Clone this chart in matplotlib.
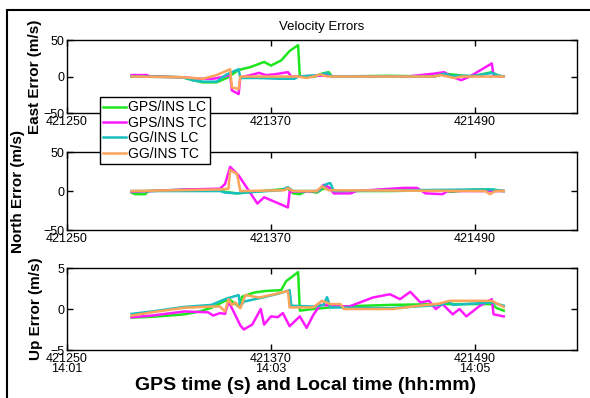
import matplotlib
matplotlib.use('Agg')
import matplotlib.pyplot as plt
from matplotlib.patches import Rectangle

plt.rcParams['font.family'] = ['Liberation Sans', 'DejaVu Sans']

# Series names and colours
series_names = ['GPS/INS LC', 'GPS/INS TC', 'GG/INS LC', 'GG/INS TC']
series_colors = ['#1ee61e', '#ff19ff', '#19bebe', '#fba45a']

# East velocity error (m/s)
east_lc_t = [421288, 421305, 421318, 421324, 421330, 421338, 421344, 421351, 421358, 421366, 421370, 421376, 421381,
             421386, 421387, 421396, 421400, 421404, 421406, 421440, 421466, 421472, 421476, 421488, 421500, 421504, 421507]
east_lc_v = [0, 0, -1, -5, -8, -8, -2, 9, 13, 20, 15, 22, 35, 43, 0, 0, 4, 6, 0, 1, 0, 4, 3, 0, 6, 1, 0]
east_tc_t = [421288, 421297, 421299, 421318, 421328, 421336, 421343, 421346, 421347, 421351, 421352, 421358, 421363,
             421367, 421372, 421380, 421382, 421398, 421403, 421407, 421450, 421466, 421472, 421476, 421482, 421487,
             421500, 421501, 421507]
east_tc_v = [2, 2, 0, -1, -3, -3, 0, 3, -19, -24, -1, 2, 5, 2, 3, 6, 0, 1, 2, 0, 0, 4, 6, 0, -5, 0, 18, 1, 0]
east_gglc_t = [421288, 421318, 421324, 421330, 421338, 421344, 421351, 421352, 421362, 421375, 421384, 421386, 421398,
               421403, 421406, 421466, 421472, 421476, 421490, 421500, 421503, 421507]
east_gglc_v = [0, -1, -5, -7, -7, 3, 10, -2, -2, -3, -3, 0, 2, 5, 0, 0, 4, 1, 1, 5, 2, 0]
east_ggtc_t = [421288, 421318, 421330, 421338, 421346, 421347, 421351, 421352, 421386, 421391, 421395, 421399, 421403,
               421466, 421470, 421478, 421482, 421507]
east_ggtc_v = [0, -1, -3, 2, 10, -15, -17, 0, 0, -2, 0, 3, 0, 0, 2, -2, 0, 0]

# North velocity error (m/s)
north_lc_t = [421288, 421290, 421296, 421298, 421320, 421340, 421343, 421350, 421360, 421375, 421380, 421383, 421387,
              421391, 421397, 421400, 421404, 421407, 421440, 421470, 421476, 421490, 421500, 421507]
north_lc_v = [-2, -4, -4, 0, 2, 2, -1, -3, -1, 2, 3, -3, -4, 0, -2, 2, 5, 0, 0, 1, -1, 2, 2, 0]
north_tc_t = [421288, 421300, 421320, 421340, 421343, 421346, 421351, 421362, 421366, 421380, 421381, 421398, 421401,
              421404, 421407, 421417, 421420, 421448, 421456, 421461, 421471, 421474, 421507]
north_tc_v = [-1, 0, 2, 3, 9, 31, 20, -16, -8, -21, -1, 0, 8, 5, -3, -3, 0, 4, 4, -3, -4, 0, 0]
north_gglc_t = [421288, 421340, 421343, 421350, 421360, 421376, 421380, 421383, 421398, 421402, 421404, 421405, 421407,
                421490, 421500, 421507]
north_gglc_v = [0, 0, -2, -3, -1, 1, 5, 0, 0, 8, 10, 10, 0, 2, 2, 0]
north_ggtc_t = [421288, 421340, 421345, 421346, 421350, 421352, 421378, 421380, 421383, 421397, 421400, 421404, 421496,
                421499, 421502, 421507]
north_ggtc_v = [0, 2, 3, 27, 22, 0, 1, 4, 0, 0, 6, 1, 0, -4, 0, 0]

# Up velocity error (m/s)
up_lc_t = [421288, 421300, 421310, 421319, 421328, 421335, 421343, 421346, 421351, 421353, 421360, 421367, 421376,
           421379, 421386, 421387, 421395, 421410, 421440, 421470, 421490, 421500, 421503, 421507]
up_lc_v = [-1.05, -0.95, -0.8, -0.65, -0.3, 0.15, 1.0, 1.1, 0.3, 1.5, 2.0, 2.2, 2.3, 3.4, 4.5, -0.2, 0.0, 0.3, 0.5,
           0.6, 0.6, 0.6, 0.1, -0.2]
up_tc_t = [421288, 421300, 421319, 421333, 421336, 421340, 421343, 421345, 421348, 421352, 421354, 421359, 421364,
           421366, 421370, 421374, 421377, 421381, 421387, 421391, 421395, 421399, 421416, 421430, 421440, 421446,
           421452, 421458, 421463, 421467, 421471, 421477, 421481, 421485, 421493, 421500, 421501, 421507]
up_tc_v = [-1.0, -0.8, -0.3, -0.4, -0.8, -0.5, -0.6, 0.9, -0.3, -2.0, -2.5, -1.9, 0.0, -1.9, -0.9, -1.0, -0.5, -2.1,
           -0.9, -2.3, -0.7, 0.5, 0.3, 1.4, 1.8, 1.2, 2.1, 0.8, 1.0, 0.0, 0.6, -0.65, 0.0, -0.9, 0.4, 1.2, -0.65, -0.9]
up_gglc_t = [421288, 421300, 421319, 421335, 421343, 421346, 421351, 421352, 421354, 421365, 421375, 421381, 421382,
             421395, 421401, 421403, 421405, 421440, 421470, 421475, 421477, 421500, 421507]
up_gglc_v = [-0.6, -0.3, 0.25, 0.5, 1.2, 1.4, 1.7, 0.3, 0.9, 1.4, 1.9, 2.3, 0.4, 0.3, 0.5, 1.45, 0.2, 0.1, 0.5, 0.9,
             0.5, 0.8, 0.4]
up_ggtc_t = [421288, 421300, 421319, 421335, 421340, 421343, 421345, 421347, 421349, 421351, 421352, 421355, 421363,
             421372, 421380, 421381, 421395, 421400, 421405, 421411, 421413, 421442, 421455, 421469, 421475, 421500,
             421507]
up_ggtc_v = [-0.8, -0.4, 0.15, 0.3, 0.3, -0.3, 1.2, 0.5, 0.8, 0.3, 0.1, 1.7, 1.4, 1.8, 2.2, 0.2, 0.2, 1.0, 0.6, 0.6,
             0.0, 0.0, 0.35, 0.65, 1.0, 1.0, 0.24]

# Ticks
x_ticks = [421250, 421370, 421490]
local_times = ['14:01', '14:03', '14:05']

panels = [
    ('East Error (m/s)', [(east_lc_t, east_lc_v), (east_tc_t, east_tc_v), (east_gglc_t, east_gglc_v),
                          (east_ggtc_t, east_ggtc_v)], 50, -0.049),
    ('North Error (m/s)', [(north_lc_t, north_lc_v), (north_tc_t, north_tc_v), (north_gglc_t, north_gglc_v),
                           (north_ggtc_t, north_ggtc_v)], 50, -0.082),
    ('Up Error (m/s)', [(up_lc_t, up_lc_v), (up_tc_t, up_tc_v), (up_gglc_t, up_gglc_v),
                        (up_ggtc_t, up_ggtc_v)], 5, -0.047),
]
axes_rects = [
    [0.1136, 0.716, 0.864, 0.1834],
    [0.1136, 0.422, 0.864, 0.196],
    [0.1136, 0.1206, 0.864, 0.206],
]

fig = plt.figure(figsize=(5.9, 3.98), dpi=100)

# Outer frame
fig.add_artist(Rectangle((7 / 590, -0.1), 1.0, 1 - 10 / 398 + 0.1, transform=fig.transFigure,
                         fill=False, lw=1.5, ec='black', clip_on=False))

handles = []
for i, (ylabel, data, lim, label_x) in enumerate(panels):
    ax = fig.add_axes(axes_rects[i])
    for (t, v), color in zip(data, series_colors):
        line, = ax.plot(t, v, color=color, lw=1.8)
        if i == 0:
            handles.append(line)
    ax.set_xlim(421250, 421550)
    ax.set_ylim(-lim, lim)
    ax.set_yticks([-lim, 0, lim])
    ax.set_xticks(x_ticks)
    if i == 2:
        ax.set_xticklabels([f'{t}\n{h}' for t, h in zip(x_ticks, local_times)], linespacing=0.85)
    else:
        ax.set_xticklabels([str(t) for t in x_ticks])
    ax.tick_params(direction='in', top=True, right=True, length=4, width=1, labelsize=9, pad=2)
    for s in ax.spines.values():
        s.set_linewidth(1.0)
    ax.set_ylabel(ylabel, fontsize=11, fontweight='bold')
    ax.yaxis.set_label_coords(label_x, 0.5)
    if i == 0:
        ax.set_title('Velocity Errors', fontsize=9.5, pad=7)

# Legend
leg = fig.legend(handles, series_names, loc='upper left', bbox_to_anchor=(100 / 590, 1 - 97 / 398),
                 bbox_transform=fig.transFigure, borderaxespad=0, fontsize=10, frameon=True, fancybox=False,
                 edgecolor='black', framealpha=1, handlelength=1.6, handletextpad=0.2, labelspacing=0.1,
                 borderpad=0.25)
leg.get_frame().set_linewidth(1.0)

fig.text(306 / 590, 1 - 386 / 398, 'GPS time (s) and Local time (hh:mm)', ha='center', va='center',
         fontsize=14, fontweight='bold')

plt.savefig('out.png', dpi=100)
